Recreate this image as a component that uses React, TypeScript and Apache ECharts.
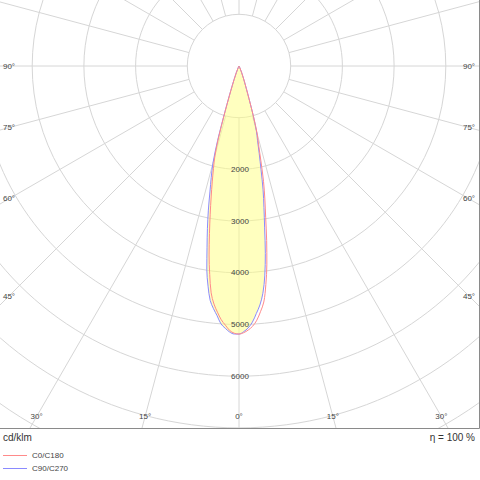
import { useEffect, useRef } from "react";
import * as echarts from "echarts";

// gamma angles (deg from nadir) and luminous intensity in cd/klm
const GAMMA = [0, 1, 2, 3, 4, 5, 6, 7, 8, 9, 10, 11, 12, 13, 14, 15, 16, 17, 18, 19, 20, 22, 25, 30];
const C0 = [5185, 5160, 5110, 5040, 4930, 4770, 4590, 4260, 3870, 3420, 2970, 2620, 2280, 1880, 1560, 1360, 1020, 670, 460, 340, 250, 130, 40, 0];
const C180 = [5185, 5170, 5120, 5020, 4920, 4780, 4630, 4420, 4070, 3700, 3290, 2920, 2590, 2300, 2040, 1800, 1420, 920, 590, 390, 270, 140, 40, 0];
const C90 = [5185, 5140, 5070, 4960, 4800, 4640, 4420, 4090, 3660, 3170, 2780, 2440, 2050, 1740, 1480, 1300, 1000, 660, 450, 330, 250, 130, 40, 0];
const C270 = [5185, 5185, 5150, 5080, 5000, 4850, 4720, 4570, 4300, 3980, 3560, 3200, 2850, 2500, 2220, 1950, 1500, 950, 600, 400, 280, 140, 40, 0];

const RING_LABELS = [2000, 3000, 4000, 5000, 6000];
const ANGLE_LABELS = [90, 75, 60, 45, 30, 15, 0];
const PLANES = ["C0/C180", "C90/C270"];

const CX = 239;
const CY = 66;
const R_MAX = 9000;
const PX_PER_UNIT = 51.7 / 1000;
const FRAME_RIGHT = 479.5;
const FRAME_BOTTOM = 428.5;
const FONT = "Liberation Sans, Arial, sans-serif";
const RED = "#ff8a8a";
const BLUE = "#8a8aff";
const GRID = "#d6d6d6";

function planeData(left: number[], right: number[]) {
  const pts: number[][] = [];
  for (let i = GAMMA.length - 1; i > 0; i--) pts.push([left[i], -GAMMA[i]]);
  for (let i = 0; i < GAMMA.length; i++) pts.push([right[i], GAMMA[i]]);
  return pts;
}

function labelStyle(text: string, size: number, align: string) {
  return {
    text,
    fill: "#444",
    font: size + "px " + FONT,
    textAlign: align,
    textVerticalAlign: "middle",
    align,
    verticalAlign: "middle",
  };
}

function angleLabels() {
  const out: any[] = [];
  const sideDx = 230;
  const bottomY = 416.5;
  ANGLE_LABELS.forEach((g) => {
    const t = Math.tan((g * Math.PI) / 180);
    const ySide = t === 0 ? Infinity : CY + sideDx / t;
    let dx: number, y: number;
    if (ySide <= bottomY) {
      dx = sideDx;
      y = ySide;
    } else {
      dx = (bottomY - CY) * t;
      y = bottomY;
    }
    const signs = g === 0 ? [0] : [-1, 1];
    signs.forEach((s) => {
      out.push({ type: "text", x: CX + s * dx, y, z: 60, style: labelStyle(g + "°", 8, "center") });
    });
  });
  return out;
}

function App() {
  const chartRef = useRef<HTMLDivElement>(null);

  useEffect(() => {
    if (!chartRef.current) return;
    const chart = echarts.init(chartRef.current, null, { renderer: "svg" });

    const polarR = R_MAX * PX_PER_UNIT;
    const hidden = { show: false };

    const ringTexts = RING_LABELS.map((v) => ({
      type: "text",
      x: CX + 1,
      y: CY + v * PX_PER_UNIT,
      z: 40,
      style: labelStyle(String(v), 8, "center"),
    }));

    const legend = PLANES.map((name, i) => {
      const y = 455.5 + i * 13;
      return [
        {
          type: "line",
          z: 60,
          shape: { x1: 3, y1: y, x2: 27, y2: y },
          style: { stroke: i === 0 ? RED : BLUE, lineWidth: 1 },
        },
        { type: "text", x: 32, y, z: 60, style: labelStyle(name, 8, "left") },
      ];
    }).flat();

    const option = {
      animation: false,
      backgroundColor: "#fff",
      polar: [
        { center: [CX, CY], radius: polarR },
        { center: [CX, CY], radius: [1000 * PX_PER_UNIT, polarR] },
      ],
      angleAxis: [
        {
          polarIndex: 0,
          type: "value",
          min: -180,
          max: 180,
          startAngle: 90,
          clockwise: false,
          axisLine: hidden,
          axisTick: hidden,
          axisLabel: hidden,
          splitLine: hidden,
        },
        {
          polarIndex: 1,
          type: "value",
          min: -180,
          max: 180,
          interval: 15,
          startAngle: 90,
          clockwise: false,
          axisLine: hidden,
          axisTick: hidden,
          axisLabel: hidden,
          splitLine: { show: true, lineStyle: { color: GRID, width: 1 } },
        },
      ],
      radiusAxis: [
        {
          polarIndex: 0,
          type: "value",
          min: 0,
          max: R_MAX,
          interval: 1000,
          axisLine: hidden,
          axisTick: hidden,
          axisLabel: hidden,
          splitLine: { show: true, lineStyle: { color: GRID, width: 1 } },
        },
        {
          polarIndex: 1,
          type: "value",
          min: 0,
          max: R_MAX,
          interval: 1000,
          axisLine: hidden,
          axisTick: hidden,
          axisLabel: hidden,
          splitLine: hidden,
        },
      ],
      series: [
        {
          name: PLANES[1],
          type: "line",
          coordinateSystem: "polar",
          polarIndex: 0,
          data: planeData(C270, C90),
          symbol: "none",
          smooth: 0.35,
          lineStyle: { color: BLUE, width: 1 },
          areaStyle: { color: "#ffff80", opacity: 0.5 },
          z: 3,
        },
        {
          name: PLANES[0],
          type: "line",
          coordinateSystem: "polar",
          polarIndex: 0,
          data: planeData(C180, C0),
          symbol: "none",
          smooth: 0.35,
          lineStyle: { color: RED, width: 1 },
          z: 4,
        },
      ],
      graphic: [
        {
          type: "rect",
          z: 50,
          shape: { x: 0, y: FRAME_BOTTOM, width: 480, height: 480 - FRAME_BOTTOM },
          style: { fill: "#fff" },
        },
        {
          type: "rect",
          z: 50,
          shape: { x: FRAME_RIGHT, y: 0, width: 480 - FRAME_RIGHT, height: 480 },
          style: { fill: "#fff" },
        },
        {
          type: "line",
          z: 55,
          shape: { x1: 0, y1: FRAME_BOTTOM, x2: FRAME_RIGHT, y2: FRAME_BOTTOM },
          style: { stroke: "#8a8a8a", lineWidth: 1 },
        },
        {
          type: "line",
          z: 55,
          shape: { x1: FRAME_RIGHT, y1: 0, x2: FRAME_RIGHT, y2: FRAME_BOTTOM },
          style: { stroke: "#8a8a8a", lineWidth: 1 },
        },
        ...ringTexts,
        ...angleLabels(),
        { type: "text", x: 3, y: 437, z: 60, style: { ...labelStyle("cd/klm", 10, "left"), fill: "#333" } },
        { type: "text", x: 475, y: 437, z: 60, style: { ...labelStyle("η = 100 %", 10, "right"), fill: "#333" } },
        ...legend,
      ],
    };

    chart.setOption(option as any);

    return () => {
      chart.dispose();
    };
  }, []);

  return (
    <div
      ref={chartRef}
      style={{ position: "absolute", left: 0, top: 0, width: "480px", height: "480px" }}
    />
  );
}

export default App;
